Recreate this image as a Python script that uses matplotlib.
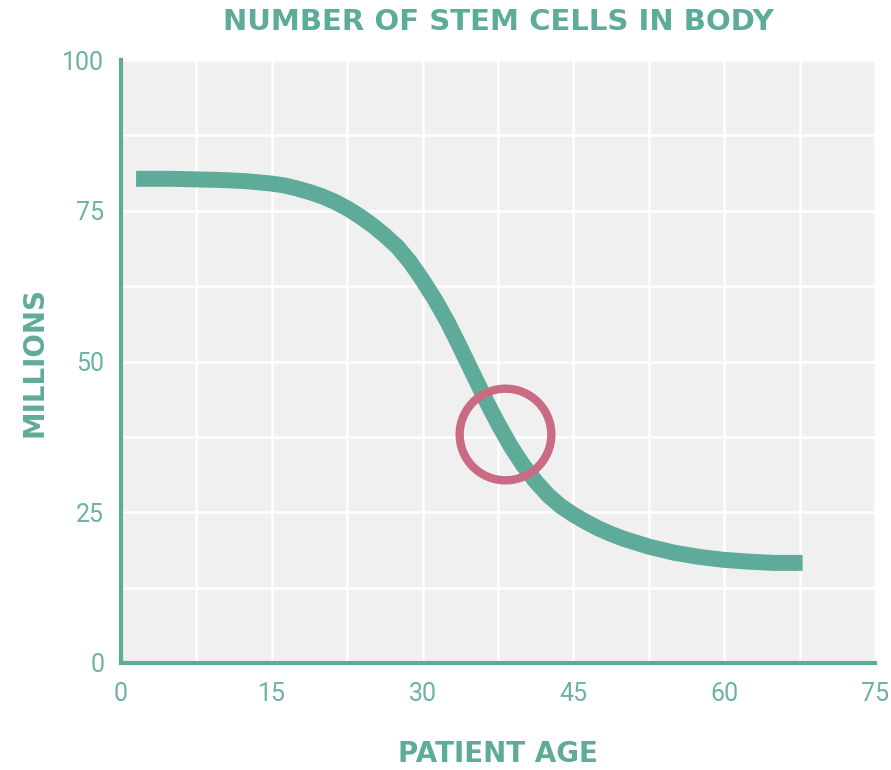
import matplotlib
matplotlib.use("Agg")
import matplotlib.pyplot as plt
import numpy as np

# curve
age = [1.5, 5, 7.5, 10, 12.5, 15, 16.25, 17.5, 18.75, 20, 21.25, 22.5, 23.75,
       25, 26.25, 27.5, 28.75, 30, 31.25, 32.5, 33.75, 35, 36.25, 37.5, 38.75,
       40, 41.25, 42.5, 43.75, 45, 46.25, 47.5, 48.75, 50, 52.5, 55, 57.5,
       60, 62.5, 65, 67.8]
millions = [80.3, 80.3, 80.2, 80.1, 79.9, 79.5, 79.2, 78.7, 78.1, 77.4, 76.5,
            75.4, 74.1, 72.6, 70.9, 69.0, 66.5, 63.5, 60.2, 56.5, 52.3, 48.0,
            43.7, 39.7, 36.0, 32.8, 30.1, 27.8, 26.0, 24.6, 23.4, 22.3, 21.4,
            20.6, 19.3, 18.3, 17.6, 17.1, 16.8, 16.6, 16.6]

highlight_x = [38.2]
highlight_y = [38.0]

x_ticks = [0, 15, 30, 45, 60, 75]
y_ticks = [0, 25, 50, 75, 100]

teal = "#5fab99"
tick_col = "#6cb3a1"
pink = "#c96b83"

fig = plt.figure(figsize=(8.91, 7.70), dpi=100)
ax = fig.add_axes([121 / 891, 1 - 663 / 770, (875 - 121) / 891, (663 - 60) / 770])
ax.set_facecolor("#f0f0f0")

ax.plot(age, millions, color=teal, lw=11.5, solid_capstyle="butt",
        solid_joinstyle="round", zorder=3)
ax.plot(highlight_x, highlight_y, "o", ms=66, mfc="none", mec=pink, mew=6, zorder=4)

ax.set_xlim(0, 75)
ax.set_ylim(0, 100)
ax.set_xticks(x_ticks)
ax.set_yticks(y_ticks)
ax.set_xticks(np.arange(0, 76, 7.5), minor=True)
ax.set_yticks(np.arange(0, 101, 12.5), minor=True)
ax.grid(which="both", color="white", lw=1.8)
ax.set_axisbelow(True)
ax.tick_params(which="both", length=0)
ax.tick_params(axis="x", pad=14)
ax.tick_params(axis="y", pad=12)
for lab in ax.get_xticklabels() + ax.get_yticklabels():
    lab.set_color(tick_col)
    lab.set_fontsize(18)
    lab.set_fontfamily("Roboto")

for s in ["top", "right"]:
    ax.spines[s].set_visible(False)
for s in ["left", "bottom"]:
    ax.spines[s].set_color(teal)
    ax.spines[s].set_linewidth(3)

fig.text(498 / 891, 1 - 22 / 770, "NUMBER OF STEM CELLS IN BODY", color=teal,
         fontsize=21, fontweight="heavy", ha="center", va="center", family="DejaVu Sans")
fig.text(498 / 891, 1 - 754 / 770, "PATIENT AGE", color=teal,
         fontsize=20, fontweight="bold", ha="center", va="center", family="DejaVu Sans")
fig.text(35 / 891, 1 - 362 / 770, "MILLIONS", color=teal, rotation=90,
         fontsize=20, fontweight="bold", ha="center", va="center", family="DejaVu Sans")

fig.savefig("out.png", dpi=100)
